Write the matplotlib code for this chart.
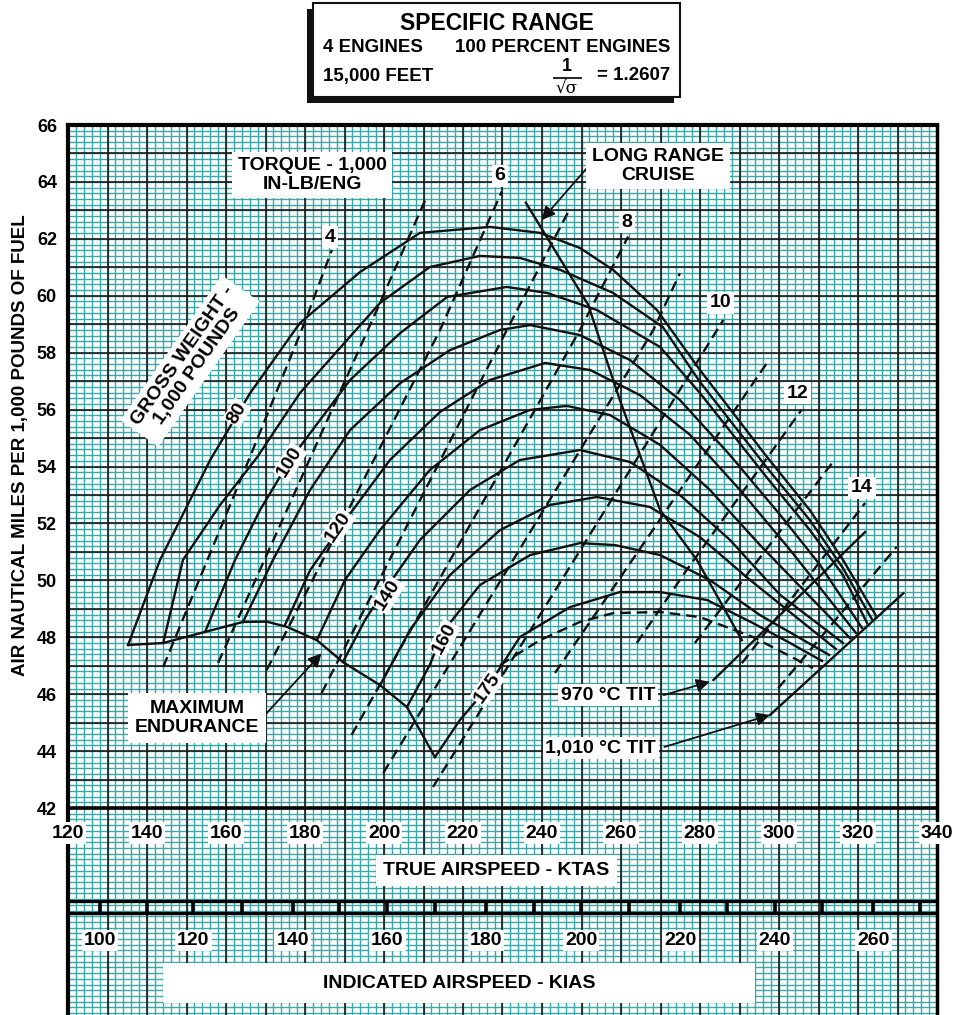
import numpy as np
import matplotlib.pyplot as plt
from matplotlib.patches import Rectangle

plt.rcParams['font.family'] = ['Liberation Sans', 'DejaVu Sans']
plt.rcParams['font.weight'] = 'bold'

# ---- values: x = true airspeed (KTAS), y = air nm per 1,000 lb fuel ----
gw_labels = [80, 90, 100, 110, 120, 130, 140, 150, 160, 175]
gw_x = [
    [135.2, 143.3, 156.0, 166.1, 178.7, 193.9, 209.1, 226.8, 239.5, 249.6, 258.0, 269.1, 280.0, 297.0, 307.8, 316.2, 324.6],
    [144.1, 149.1, 158.5, 167.9, 178.7, 199.0, 211.6, 224.3, 234.4, 244.6, 258.0, 270.6, 280.0, 297.0, 307.8, 316.2, 323.5],
    [154.7, 162.3, 168.6, 176.2, 191.4, 204.1, 216.0, 231.1, 241.3, 253.9, 269.9, 280.0, 297.0, 307.8, 316.2, 322.3],
    [164.3, 171.9, 181.3, 191.4, 204.1, 216.7, 229.4, 237.0, 249.6, 262.3, 274.9, 287.6, 300.3, 310.4, 321.0],
    [174.9, 181.3, 188.9, 201.5, 214.2, 226.8, 240.8, 252.2, 264.8, 277.5, 290.1, 302.8, 319.5],
    [183.0, 190.1, 199.0, 211.6, 224.3, 237.0, 246.3, 257.2, 269.9, 282.5, 295.2, 318.0],
    [189.6, 195.2, 199.0, 209.1, 221.8, 234.4, 249.6, 262.3, 274.9, 287.6, 300.3, 316.2],
    [199.0, 206.6, 216.7, 229.4, 242.0, 253.9, 267.3, 280.0, 292.7, 314.4],
    [205.8, 211.6, 214.9, 224.3, 237.0, 249.6, 258.5, 269.9, 282.5, 295.2, 312.7],
    [212.9, 219.2, 226.1, 234.4, 247.1, 259.7, 269.9, 281.8, 293.4, 302.8, 310.9],
]
gw_y = [
    [47.73, 50.72, 54.23, 56.58, 59.04, 60.83, 62.21, 62.42, 62.21, 61.68, 60.91, 59.50, 57.39, 54.33, 52.47, 50.72, 48.75],
    [47.80, 50.72, 52.65, 54.33, 56.58, 59.75, 61.01, 61.40, 61.33, 60.91, 60.10, 58.90, 56.97, 53.95, 52.12, 50.43, 48.64],
    [48.19, 50.72, 52.47, 54.23, 57.04, 58.69, 59.96, 60.31, 60.10, 59.50, 58.20, 56.58, 53.60, 51.77, 50.19, 48.50],
    [48.54, 50.72, 53.18, 55.28, 56.93, 58.09, 58.80, 58.97, 58.62, 57.74, 56.34, 54.40, 52.30, 50.54, 48.33],
    [48.43, 50.36, 51.87, 54.23, 55.92, 57.04, 57.64, 57.39, 56.51, 55.11, 53.18, 51.07, 48.15],
    [47.90, 50.01, 51.77, 53.88, 55.28, 55.99, 56.13, 55.81, 54.76, 53.18, 51.24, 47.97],
    [47.13, 48.61, 49.42, 51.42, 53.18, 54.23, 54.58, 54.16, 53.00, 51.42, 49.49, 47.80],
    [46.32, 48.26, 50.19, 51.77, 52.65, 52.93, 52.58, 51.52, 50.01, 47.59],
    [45.55, 47.03, 48.19, 49.84, 50.89, 51.31, 51.24, 50.89, 50.01, 48.78, 47.38],
    [43.79, 45.09, 46.22, 48.01, 49.06, 49.59, 49.59, 49.31, 48.50, 47.80, 47.17],
]
# lower dashed gross weight curve
dash_x = [229.4, 239.5, 249.6, 258.0, 269.9, 280.0, 293.4, 308.6]
dash_y = [47.03, 47.90, 48.54, 48.85, 48.89, 48.71, 48.01, 46.92]

# maximum endurance line
me_x = [135.2, 144.1, 154.7, 164.3, 170.3, 175.4, 183.0, 189.6, 199.0, 205.8, 212.9]
me_y = [47.73, 47.80, 48.19, 48.54, 48.55, 48.37, 47.90, 47.13, 46.32, 45.55, 43.79]

# long range cruise line
lrc_x = [235.9, 251.7, 259.7, 269.9, 279.2, 290.6]
lrc_y = [63.27, 59.68, 56.34, 52.47, 50.72, 47.90]

# turbine inlet temperature limit lines
tit970_x = [283.4, 321.8]
tit970_y = [46.50, 51.70]
tit1010_x = [297.7, 331.5]
tit1010_y = [45.27, 49.55]

# torque lines, 1,000 in-lb/eng
torque_vals = [4, 5, 6, 7, 8, 9, 10, 11, 12, 13, 14, 15]
torque_x = [[144.1, 166.1, 180.0, 186.8], [158.0, 199.0, 210.8], [170.3, 214.2, 229.8],
            [184.2, 231.1, 247.1], [191.8, 249.6, 261.8], [199.8, 268.2, 274.9],
            [212.4, 285.9], [243.3, 254.7, 296.9], [264.0, 276.6, 305.7],
            [278.7, 313.7], [290.6, 321.8], [299.8, 329.8]]
torque_y = [[46.96, 54.35, 59.09, 61.61], [47.10, 59.75, 63.48], [46.85, 58.80, 63.66],
            [46.04, 58.80, 63.07], [44.57, 58.80, 62.08], [43.23, 58.80, 60.79],
            [42.74, 59.15], [46.75, 49.06, 57.63], [47.80, 50.36, 55.99],
            [47.80, 54.17], [47.09, 52.72], [46.21, 51.18]]

# indicated airspeed scale: KIAS ticks and where they fall on the KTAS axis
kias_ticks = [100, 110, 120, 130, 140, 150, 160, 170, 180, 190, 200, 210, 220, 230, 240, 250, 260, 270]
kias_at_ktas = [128.1, 140.1, 151.7, 164.0, 176.9, 188.7, 200.8, 212.9, 225.8, 237.9,
                249.9, 261.9, 275.0, 286.9, 299.0, 310.8, 323.9, 335.7]
ktas_ticks = list(range(120, 341, 20))
y_ticks = list(range(42, 67, 2))

TEAL = '#3aa8a8'
W, H = 956, 1015

fig = plt.figure(figsize=(W / 100, H / 100), dpi=100)
ax = fig.add_axes([68 / W, 0, (937 - 68) / W, (1015 - 125) / H])
ax.set_xlim(120, 340)
ax.set_ylim(34.73, 66)

# graph paper
ax.vlines(np.arange(120, 341, 2), 34.73, 66, color=TEAL, lw=1.0, zorder=0)
ax.hlines(np.arange(34.8, 66.01, 0.2), 120, 340, color=TEAL, lw=1.0, zorder=0)
ax.vlines(np.arange(120, 341, 10), 34.73, 66, color='#1a1a1a', lw=1.2, zorder=1)
ax.hlines(np.arange(42, 67, 1), 120, 340, color='#1a1a1a', lw=1.2, zorder=1)
ax.axhline(42, color='black', lw=2.6, zorder=2)

for s in ['left', 'top']:
    ax.spines[s].set_linewidth(3)
ax.spines['right'].set_linewidth(2.5)
ax.spines['bottom'].set_visible(False)

ax.set_xticks([])
ax.set_yticks(y_ticks)
ax.set_yticklabels([str(v) for v in y_ticks], fontsize=13, fontweight='bold')
ax.tick_params(axis='y', length=0, pad=8)
ax.set_ylabel('AIR NAUTICAL MILES PER 1,000 POUNDS OF FUEL', fontsize=13.5, fontweight='bold')
ax.yaxis.set_label_coords(-0.045, 1 - (445 - 125) / 890)

# curves
for xs, ys in zip(gw_x, gw_y):
    ax.plot(xs, ys, color='#111111', lw=1.7, zorder=3, solid_joinstyle='round')
ax.plot(dash_x, dash_y, color='#111111', lw=1.7, dashes=(4.5, 2.5), zorder=3)
ax.plot(me_x, me_y, color='#111111', lw=1.7, zorder=3)
ax.plot(lrc_x, lrc_y, color='#111111', lw=1.7, zorder=3)
ax.plot(tit970_x, tit970_y, color='#111111', lw=1.7, zorder=3)
ax.plot(tit1010_x, tit1010_y, color='#111111', lw=1.7, zorder=3)
for xs, ys in zip(torque_x, torque_y):
    ax.plot(xs, ys, color='#111111', lw=1.7, dashes=(4.5, 2.5), zorder=3)

box = dict(facecolor='white', edgecolor='none', pad=2)
lab = dict(fontsize=14, fontweight='bold', ha='center', va='center', zorder=6)

# torque labels
torque_lab_pos = {4: (186.3, 62.06), 6: (229.4, 64.21), 8: (261.5, 62.59),
                  10: (285.1, 59.75), 12: (304.8, 56.58), 14: (321.0, 53.25)}
for t, (lx, ly) in torque_lab_pos.items():
    ax.text(lx, ly, str(t), bbox=box, **lab)

# gross weight labels
gw_lab_pos = {80: (162.8, 55.88, 59), 100: (176.2, 54.16, 58), 120: (188.4, 51.87, 56),
              140: (201.0, 49.49, 58), 160: (215.2, 47.95, 62), 175: (226.1, 46.22, 55)}
for g, (lx, ly, rot) in gw_lab_pos.items():
    ax.text(lx, ly, str(g), rotation=rot, rotation_mode='anchor',
            bbox=dict(facecolor='white', edgecolor='none', pad=1), **lab)

ax.text(181.8, 64.24, 'TORQUE - 1,000\nIN-LB/ENG', linespacing=1.1,
        bbox=dict(facecolor='white', edgecolor='none', pad=4), **lab)
ax.text(150.9, 57.71, 'GROSS WEIGHT -\n1,000 POUNDS', rotation=55, linespacing=1.05,
        bbox=dict(facecolor='white', edgecolor='none', pad=4), **lab)
ax.text(269.4, 64.56, 'LONG RANGE\nCRUISE', linespacing=1.1,
        bbox=dict(facecolor='white', edgecolor='none', pad=4), **lab)
ax.text(152.7, 45.16, 'MAXIMUM\nENDURANCE', linespacing=1.15,
        bbox=dict(facecolor='white', edgecolor='none', pad=5), **lab)
ax.text(256.7, 45.97, '970 \u00b0C TIT', bbox=box, **lab)
ax.text(254.9, 44.11, '1,010 \u00b0C TIT', bbox=box, **lab)

arrow = dict(arrowstyle='-|>', color='#111111', lw=1.3, mutation_scale=20, shrinkA=0, shrinkB=0)
ax.annotate('', xy=(239.9, 62.66), xytext=(251.7, 64.54), arrowprops=arrow, zorder=5)
ax.annotate('', xy=(184.2, 47.44), xytext=(169.4, 45.20), arrowprops=arrow, zorder=5)
ax.annotate('', xy=(282.5, 46.44), xytext=(270.8, 45.97), arrowprops=arrow, zorder=5)
ax.annotate('', xy=(297.7, 45.27), xytext=(271.0, 44.15), arrowprops=arrow, zorder=5)

# true airspeed scale
for v in ktas_ticks:
    ax.text(v, 41.12, str(v), clip_on=False,
            bbox=dict(facecolor='white', edgecolor='none', pad=1.5), **lab)
ax.text(228.5, 39.82, 'TRUE AIRSPEED - KTAS',
        bbox=dict(facecolor='white', edgecolor='none', pad=5), **lab)

# indicated airspeed scale
ax.hlines([38.73, 38.31], 120, 340, color='black', lw=2.4, zorder=4)
ax.vlines(kias_at_ktas, 38.31, 38.73, color='black', lw=2.6, zorder=4)
for k, v in zip(kias_ticks, kias_at_ktas):
    if k % 20 == 0:
        ax.text(v, 37.36, str(k), bbox=dict(facecolor='white', edgecolor='none', pad=1.5), **lab)
ax.add_patch(Rectangle((144.1, 35.15), 149.9, 1.41, facecolor='white', edgecolor='none', zorder=5))
ax.text(219.0, 35.85, 'INDICATED AIRSPEED - KIAS', **lab)

# title block with drop shadow
def fig_rect(x0, y0, x1, y1, **kw):
    fig.patches.append(Rectangle((x0 / W, 1 - y1 / H), (x1 - x0) / W, (y1 - y0) / H,
                                 transform=fig.transFigure, **kw))

fig_rect(307, 9, 674, 103, facecolor='#111111', edgecolor='none')
fig_rect(313, 3, 680, 97, facecolor='white', edgecolor='#111111', lw=1.5)
fig.text(497 / W, 1 - 23 / H, 'SPECIFIC RANGE', fontsize=16.5, fontweight='bold', ha='center', va='center')
fig.text(323 / W, 1 - 48 / H, '4 ENGINES', fontsize=13.5, fontweight='bold', ha='left', va='center')
fig.text(670 / W, 1 - 48 / H, '100 PERCENT ENGINES', fontsize=13.5, fontweight='bold', ha='right', va='center')
fig.text(323 / W, 1 - 77 / H, '15,000 FEET', fontsize=13.5, fontweight='bold', ha='left', va='center')
fig.text(567 / W, 1 - 67 / H, '1', fontsize=13, fontweight='bold', ha='center', va='center')
fig.add_artist(plt.Line2D([554 / W, 581 / W], [1 - 78 / H, 1 - 78 / H], color='#111111', lw=1.3,
                          transform=fig.transFigure))
fig.text(567 / W, 1 - 89 / H, '\u221a\u03c3', fontsize=12, family='DejaVu Serif', fontweight='normal',
         ha='center', va='center')
fig.text(670 / W, 1 - 76 / H, '= 1.2607', fontsize=13.5, fontweight='bold', ha='right', va='center')

fig.savefig('out.png', dpi=100)
